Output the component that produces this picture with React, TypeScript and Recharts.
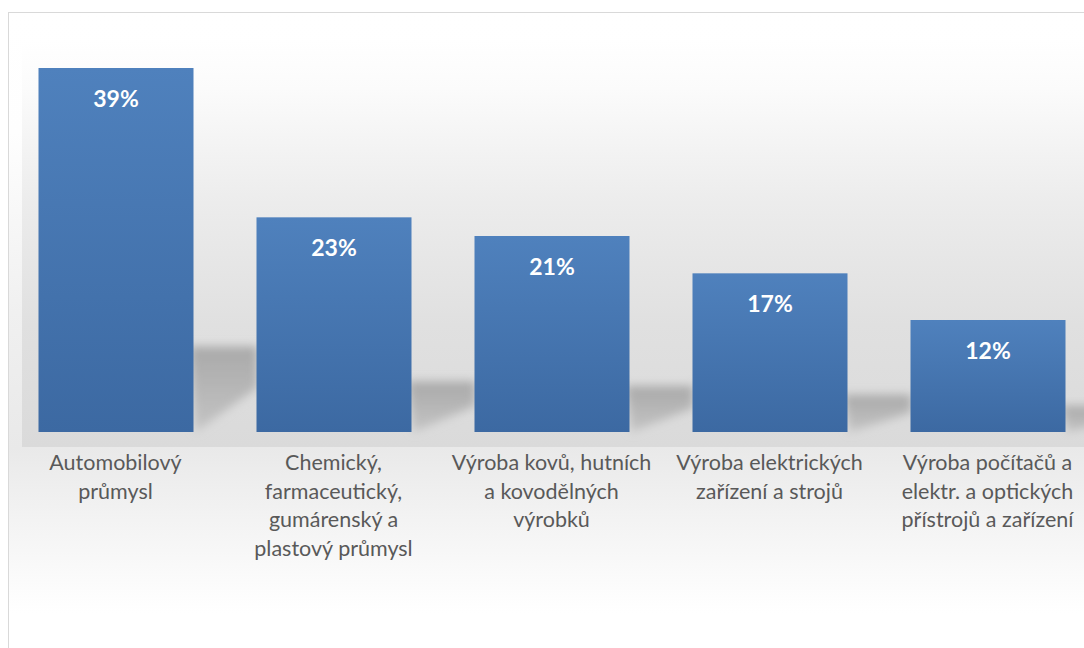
import { BarChart, Bar, XAxis, YAxis, LabelList } from "recharts";
import { FC } from "react";

const categories = [
  "Automobilový průmysl",
  "Chemický, farmaceutický, gumárenský a plastový průmysl",
  "Výroba kovů, hutních a kovodělných výrobků",
  "Výroba elektrických zařízení a strojů",
  "Výroba počítačů a elektr. a optických přístrojů a zařízení",
];
const shares = [39, 23, 21, 17, 12];
const tickLines = [
  ["Automobilový", "průmysl"],
  ["Chemický,", "farmaceutický,", "gumárenský a", "plastový průmysl"],
  ["Výroba kovů, hutních", "a kovodělných", "výrobků"],
  ["Výroba elektrických", "zařízení a strojů"],
  ["Výroba počítačů a", "elektr. a optických", "přístrojů a zařízení"],
];

const data = categories.map((name, i) => ({ name, value: shares[i] }));

const FONT = "Lato, 'Open Sans', sans-serif";

const CategoryTick = (props: any) => {
  const { x, y, index } = props;
  const lines = tickLines[index] || [];
  return (
    <text x={x} y={y + 30} textAnchor="middle" fill="#595959" fontSize={21.5} fontFamily={FONT}>
      {lines.map((l, i) => (
        <tspan key={i} x={x} dy={i === 0 ? 0 : 28.7}>
          {l}
        </tspan>
      ))}
    </text>
  );
};

// bar with a soft skewed shadow on the back wall
const ShadowBar = (props: any) => {
  const { x, y, width, height } = props;
  const bottom = y + height;
  const sh = height * 0.235;
  const pts = [
    [x + width - 4, bottom - sh],
    [x + width + 64, bottom - sh],
    [x + width + 64, bottom - sh * 0.52],
    [x + width + 2, bottom],
  ]
    .map((p) => p.join(","))
    .join(" ");
  return (
    <g>
      <polygon points={pts} fill="url(#shadowGrad)" filter="url(#blurShadow)" />
      <rect x={x} y={y} width={width} height={height} fill="url(#barGrad)" />
    </g>
  );
};

const ValueLabel = (props: any) => {
  const { x, y, width, value } = props;
  return (
    <text
      x={x + width / 2}
      y={y + 39}
      textAnchor="middle"
      fill="#ffffff"
      fontSize={23}
      fontWeight="bold"
      fontFamily={FONT}
    >
      {value}%
    </text>
  );
};

const App: FC = () => {
  return (
    <div
      style={{
        position: "absolute",
        left: 0,
        top: 0,
        width: 1084,
        height: 648,
        overflow: "hidden",
        background: "#ffffff",
      }}
    >
      {/* chart frame */}
      <div
        style={{
          position: "absolute",
          left: 8,
          top: 12,
          width: 1100,
          height: 660,
          border: "1.5px solid #d9d9d9",
          background:
            "linear-gradient(to bottom, #ffffff 0px, #fefefe 120px, #f0f0f0 300px, #e9e9e9 435px, #eeeeee 470px, #fafafa 560px, #ffffff 600px)",
        }}
      />
      {/* back wall */}
      <div
        style={{
          position: "absolute",
          left: 22,
          top: 40,
          width: 1080,
          height: 407,
          background:
            "linear-gradient(to bottom, #ffffff 0%, #fbfbfb 12%, #ececec 40%, #e0e0e0 70%, #dadada 100%)",
        }}
      />
      <div style={{ position: "absolute", left: 0, top: 0 }}>
        <BarChart
          width={1100}
          height={648}
          data={data}
          margin={{ top: 68, right: 3.5, left: 6.5, bottom: 16 }}
        >
          <defs>
            <linearGradient id="barGrad" x1="0" y1="0" x2="0" y2="1">
              <stop offset="0%" stopColor="#4f81bd" />
              <stop offset="100%" stopColor="#3c69a2" />
            </linearGradient>
            <linearGradient id="shadowGrad" x1="0" y1="0" x2="0" y2="1">
              <stop offset="0%" stopColor="#a9a9a9" />
              <stop offset="100%" stopColor="#c4c4c4" />
            </linearGradient>
            <filter id="blurShadow" x="-30%" y="-30%" width="160%" height="160%">
              <feGaussianBlur stdDeviation="5" />
            </filter>
          </defs>
          <XAxis
            dataKey="name"
            axisLine={false}
            tickLine={false}
            interval={0}
            height={200}
            tick={<CategoryTick />}
          />
          <YAxis hide domain={[0, 39]} />
          <Bar dataKey="value" barSize={155} shape={<ShadowBar />} isAnimationActive={false}>
            <LabelList dataKey="value" content={<ValueLabel />} />
          </Bar>
        </BarChart>
      </div>
    </div>
  );
};

export default App;
